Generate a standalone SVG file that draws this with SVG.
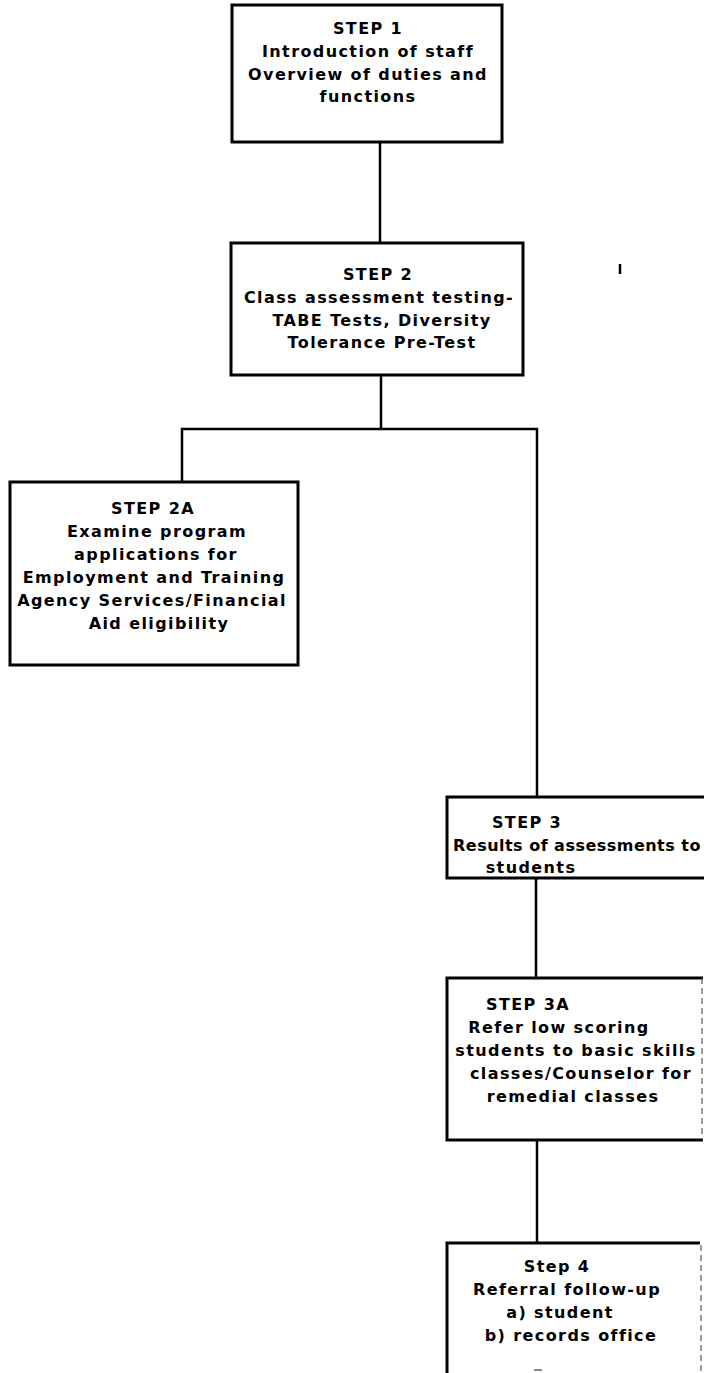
<svg xmlns="http://www.w3.org/2000/svg" width="704" height="1373" viewBox="0 0 704 1373">
  <style>
    .box { fill: #ffffff; stroke: #000000; stroke-width: 3; }
    .faint { fill: none; stroke: #555555; stroke-width: 1.2; stroke-dasharray: 6 4; }
    .edge { fill: none; stroke: #000000; stroke-width: 2.5; }
    .lbl { font-family: "DejaVu Sans", "Liberation Sans", sans-serif; font-weight: bold; font-size: 16px; letter-spacing: 1.4px; fill: #000000; text-anchor: middle; }
    .start { text-anchor: start; letter-spacing: 0.6px; }
  </style>
  <rect width="704" height="1373" fill="#ffffff"/>

  <!-- connectors -->
  <g id="connectors">
    <line class="edge" x1="380" y1="142" x2="380" y2="243"/>
    <line class="edge" x1="381" y1="375" x2="381" y2="429"/>
    <polyline class="edge" points="182,482 182,429 537,429 537,797"/>
    <line class="edge" x1="536" y1="878" x2="536" y2="978"/>
    <line class="edge" x1="537" y1="1140" x2="537" y2="1243"/>
    <line class="edge" x1="620" y1="264" x2="620" y2="274" stroke-width="1.5"/>
    <line x1="534" y1="1370" x2="542" y2="1370" stroke="#888888" stroke-width="2"/>
  </g>

  <g id="step1">
    <rect class="box" x="232" y="5" width="270" height="137"/>
    <text class="lbl" x="368" y="34">STEP 1</text>
    <text class="lbl" x="368" y="57">Introduction of staff</text>
    <text class="lbl" x="368" y="80">Overview of duties and</text>
    <text class="lbl" x="368" y="102">functions</text>
  </g>

  <g id="step2">
    <rect class="box" x="231" y="243" width="292" height="132"/>
    <text class="lbl" x="378" y="280">STEP 2</text>
    <text class="lbl" x="379" y="303">Class assessment testing-</text>
    <text class="lbl" x="382" y="326">TABE Tests, Diversity</text>
    <text class="lbl" x="382" y="348">Tolerance Pre-Test</text>
  </g>

  <g id="step2a">
    <rect class="box" x="10" y="482" width="288" height="183"/>
    <text class="lbl" x="153" y="514">STEP 2A</text>
    <text class="lbl" x="157" y="537">Examine program</text>
    <text class="lbl" x="156" y="560">applications for</text>
    <text class="lbl" x="154" y="583">Employment and Training</text>
    <text class="lbl" x="152" y="606">Agency Services/Financial</text>
    <text class="lbl" x="159" y="629">Aid eligibility</text>
  </g>

  <g id="step3">
    <path class="box" d="M710,797 L447,797 L447,878 L710,878"/>
    <text class="lbl" x="527" y="828">STEP 3</text>
    <text class="lbl start" x="453" y="851" textLength="248" lengthAdjust="spacing">Results of assessments to</text>
    <text class="lbl" x="531" y="873">students</text>
  </g>

  <g id="step3a">
    <path class="box" d="M703,978 L447,978 L447,1140 L703,1140"/>
    <line class="faint" x1="702" y1="978" x2="702" y2="1140"/>
    <text class="lbl" x="528" y="1010">STEP 3A</text>
    <text class="lbl" x="559" y="1033">Refer low scoring</text>
    <text class="lbl" x="576" y="1056">students to basic skills</text>
    <text class="lbl" x="581" y="1079">classes/Counselor for</text>
    <text class="lbl" x="573" y="1102">remedial classes</text>
  </g>

  <g id="step4">
    <path class="box" d="M447,1380 L447,1243 L700,1243"/>
    <line class="faint" x1="701" y1="1245" x2="701" y2="1373"/>
    <text class="lbl" x="557" y="1272">Step 4</text>
    <text class="lbl" x="567" y="1295">Referral follow-up</text>
    <text class="lbl" x="560" y="1318">a) student</text>
    <text class="lbl" x="571" y="1341">b) records office</text>
  </g>
</svg>
